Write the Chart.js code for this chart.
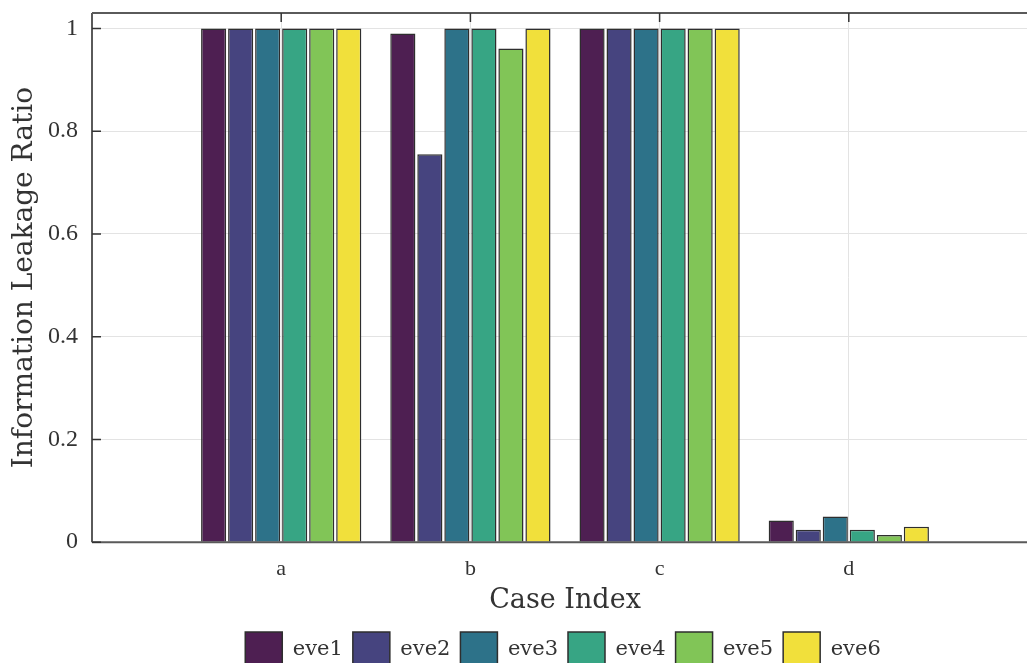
<!DOCTYPE html>
<html lang="en">
<head>
    <meta charset="UTF-8">
    <title>Information Leakage Ratio</title>
    <script src="https://cdn.jsdelivr.net/npm/chart.js"></script>
    <style>
        html, body { margin: 0; padding: 0; overflow: hidden; background: #fff; }
        #chartContainer { width: 1052px; height: 663px; }
    </style>
</head>
<body>
    <div id="chartContainer">
        <canvas id="chart1"></canvas>
    </div>

    <script>
        // padded with empty slots on both ends so the axis runs 0..5 like the original
        var casos = ['', 'a', 'b', 'c', 'd', ''];
        var eve1 = [null, 1, 0.99, 1, 0.042, null];
        var eve2 = [null, 1, 0.755, 1, 0.024, null];
        var eve3 = [null, 1, 1, 1, 0.05, null];
        var eve4 = [null, 1, 1, 1, 0.024, null];
        var eve5 = [null, 1, 0.961, 1, 0.014, null];
        var eve6 = [null, 1, 1, 1, 0.03, null];
        var nombres = ['eve1', 'eve2', 'eve3', 'eve4', 'eve5', 'eve6'];
        var colores = ['#4e1f52', '#46447f', '#2d7289', '#37a584', '#81c557', '#f1e03b'];
        var yTicks = [0, 0.2, 0.4, 0.6, 0.8, 1];

        var series = [eve1, eve2, eve3, eve4, eve5, eve6];
        var datasets = [];
        for (var i = 0; i < series.length; i++) {
            datasets.push({
                label: nombres[i],
                data: series[i],
                backgroundColor: colores[i],
                borderColor: '#2e2e2e',
                borderWidth: 1.5,
                categoryPercentage: 0.857,
                barPercentage: 0.93
            });
        }

        var fuente = "'Liberation Serif', 'DejaVu Serif', serif";
        var fuenteTitulo = "'DejaVu Serif', serif";

        // top border and inward tick marks, like the matlab box
        var cajaPlugin = {
            id: 'caja',
            afterLayout: function (chart) {
                // legend sits a bit right of the canvas centre in the original
                if (chart.legend) {
                    chart.legend.left += 37;
                    chart.legend.right += 37;
                }
            },
            afterDatasetsDraw: function (chart) {
                var ctx = chart.ctx;
                var area = chart.chartArea;
                var x = chart.scales.x;
                var y = chart.scales.y;
                ctx.save();
                ctx.strokeStyle = '#5a5a5a';
                ctx.lineWidth = 2;
                ctx.beginPath();
                ctx.moveTo(area.left, area.top);
                ctx.lineTo(area.right, area.top);
                ctx.moveTo(area.left, area.top);
                ctx.lineTo(area.left, area.bottom);
                ctx.moveTo(area.left, area.bottom);
                ctx.lineTo(area.right, area.bottom);
                ctx.stroke();
                ctx.strokeStyle = '#333';
                ctx.lineWidth = 1.5;
                ctx.beginPath();
                for (var k = 0; k < yTicks.length; k++) {
                    var py = y.getPixelForValue(yTicks[k]);
                    ctx.moveTo(area.left, py);
                    ctx.lineTo(area.left + 9, py);
                }
                for (var j = 1; j < casos.length - 1; j++) {
                    var px = x.getPixelForValue(j);
                    ctx.moveTo(px, area.top);
                    ctx.lineTo(px, area.top + 9);
                }
                ctx.stroke();
                ctx.restore();
            }
        };

        var ctx = document.getElementById('chart1').getContext('2d');
        var chart = new Chart(ctx, {
            type: 'bar',
            data: {
                labels: casos,
                datasets: datasets
            },
            options: {
                responsive: true,
                maintainAspectRatio: false,
                animation: false,
                layout: {
                    padding: { top: 13, left: 0, right: 0, bottom: -14 }
                },
                plugins: {
                    tooltip: { enabled: false },
                    legend: {
                        position: 'bottom',
                        labels: {
                            boxWidth: 37,
                            boxHeight: 35,
                            padding: 10,
                            color: '#333',
                            font: { family: fuenteTitulo, size: 21 }
                        }
                    }
                },
                scales: {
                    x: {
                        offset: false,
                        grid: {
                            offset: false,
                            color: '#e3e3e3',
                            lineWidth: 1,
                            drawTicks: false
                        },
                        border: { display: false },
                        ticks: {
                            color: '#333',
                            padding: 14,
                            maxRotation: 0,
                            autoSkip: false,
                            font: { family: fuente, size: 22 }
                        },
                        title: {
                            display: true,
                            text: 'Case Index',
                            color: '#333',
                            padding: { top: -12, bottom: 5 },
                            font: { family: fuenteTitulo, size: 27 }
                        }
                    },
                    y: {
                        min: 0,
                        max: 1.03,
                        afterBuildTicks: function (scale) {
                            scale.ticks = yTicks.map(function (v) { return { value: v }; });
                        },
                        afterFit: function (scale) {
                            scale.width = 92;
                            scale.paddingTop = 0;
                        },
                        grid: {
                            color: '#e3e3e3',
                            lineWidth: 1,
                            drawTicks: false
                        },
                        border: { display: false },
                        ticks: {
                            color: '#333',
                            padding: 14,
                            font: { family: fuente, size: 24 },
                            callback: function (v) { return String(v); }
                        },
                        title: {
                            display: true,
                            text: 'Information Leakage Ratio',
                            color: '#333',
                            padding: { top: 8, bottom: 4 },
                            font: { family: fuenteTitulo, size: 28 }
                        }
                    }
                }
            },
            plugins: [cajaPlugin]
        });
    </script>
</body>
</html>
